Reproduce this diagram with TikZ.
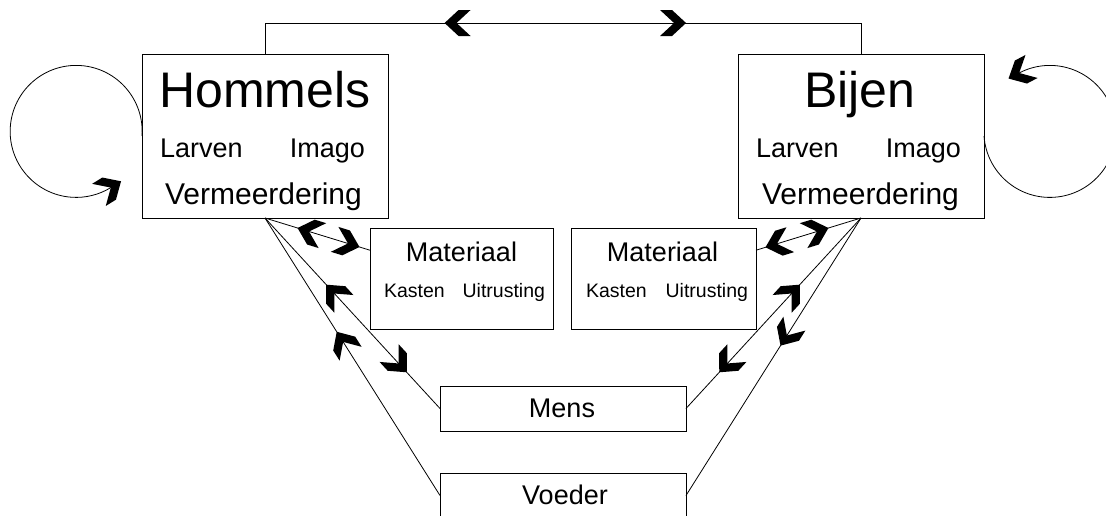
\documentclass[tikz,border=0pt]{standalone}
\usepackage{fontspec}
\setmainfont{Liberation Sans}
\usetikzlibrary{decorations.markings,calc}

% bold chevron, tip at the origin, pointing along +x
\newcommand{\chevtip}{\fill (0,0) -- (-14,-13) -- (-26,-13) -- (-12,0) -- (-26,13) -- (-14,13) -- cycle;}

\tikzset{
	fwd/.style={postaction={decorate,decoration={markings,mark=at position #1 with {\chevtip}}}},
	bwd/.style={postaction={decorate,decoration={markings,mark=at position #1 with {\begin{scope}[xscale=-1]\chevtip\end{scope}}}}},
	tipend/.style={postaction={decorate,decoration={markings,mark=at position 0.999 with {\begin{scope}[xshift=12pt]\chevtip\end{scope}}}}}
}

\begin{document}
\begin{tikzpicture}[x=1pt,y=-1pt]
	\tikzstyle{every node}=[inner sep=0pt,outer sep=0pt]
	\tikzstyle{box}=[draw, line width=1pt]
	\tikzstyle{conn}=[line width=0.8pt]
	\tikzstyle{big}=[anchor=base, font=\fontsize{50}{60}\selectfont]
	\tikzstyle{mid}=[font=\fontsize{27}{32}\selectfont]
	\tikzstyle{small}=[font=\fontsize{19.5}{24}\selectfont]
	
	\useasboundingbox (0,0) rectangle (1106,515);
	\clip (0,0) rectangle (1106,515);
	
	% boxes
	\node [box, minimum width=246pt, minimum height=164pt] (hom) at (265,136) {};
	\node [box, minimum width=246pt, minimum height=164pt] (bij) at (861,136) {};
	\node [box, minimum width=183pt, minimum height=101pt] (mat1) at (461.5,278.5) {};
	\node [box, minimum width=185pt, minimum height=101pt] (mat2) at (663.5,278.5) {};
	\node [box, minimum width=246pt, minimum height=45pt] (mens) at (563,408.5) {};
	\node [box, minimum width=246pt, minimum height=45pt] (voed) at (563,495.5) {};
	
	% Hommels
	\node [big] (homt) at (265,107) {Hommels};
	\node [mid, anchor=base west] (homl) at (160,157) {Larven};
	\node [mid, anchor=base east] (homi) at (365,157) {Imago};
	\node [anchor=base, font=\fontsize{30}{36}\selectfont] (homv) at (263.5,204) {Vermeerdering};
	
	% Bijen
	\node [big] (bijt) at (860,107) {Bijen};
	\node [mid, anchor=base west] (bijl) at (756,157) {Larven};
	\node [mid, anchor=base east] (biji) at (961,157) {Imago};
	\node [anchor=base, font=\fontsize{30}{36}\selectfont] (bijv) at (860.5,204) {Vermeerdering};
	
	% Materiaal
	\node [mid, anchor=base] (mat1t) at (461.5,261) {Materiaal};
	\node [small, anchor=base west] (mat1k) at (384,297) {Kasten};
	\node [small, anchor=base east] (mat1u) at (545,297) {Uitrusting};
	\node [mid, anchor=base] (mat2t) at (662.5,261) {Materiaal};
	\node [small, anchor=base west] (mat2k) at (586,297) {Kasten};
	\node [small, anchor=base east] (mat2u) at (748,297) {Uitrusting};
	
	\node [mid, anchor=base] (menst) at (562,417) {Mens};
	\node [mid, anchor=base] (voedt) at (565,504) {Voeder};
	
	\coordinate (m1) at ($(mat1.north west)!0.22!(mat1.south west)$);
	\coordinate (m2) at ($(mat2.north east)!0.22!(mat2.south east)$);
	
	% top link
	\draw [conn, bwd=0.32, fwd=0.687] (hom.north) -- ++(0,-31) -| (bij.north);
	
	% loops
	\draw [conn, tipend] (hom.west) arc[start angle=4, end angle=-302, radius=66];
	\draw [conn, tipend] (bij.east) arc[start angle=176, end angle=-118, radius=66];
	
	% left links
	\draw [conn, bwd=0.31, fwd=0.9] (hom.south) -- (m1);
	\draw [conn, bwd=0.35, fwd=0.81] (hom.south) -- (mens.west);
	\draw [conn, bwd=0.41] (hom.south) -- (voed.west);
	
	% right links
	\draw [conn, bwd=0.31, fwd=0.91] (bij.south) -- (m2);
	\draw [conn, bwd=0.35, fwd=0.81] (bij.south) -- (mens.east);
	\draw [conn, fwd=0.46] (bij.south) -- (voed.east);
	
\end{tikzpicture}
\end{document}
